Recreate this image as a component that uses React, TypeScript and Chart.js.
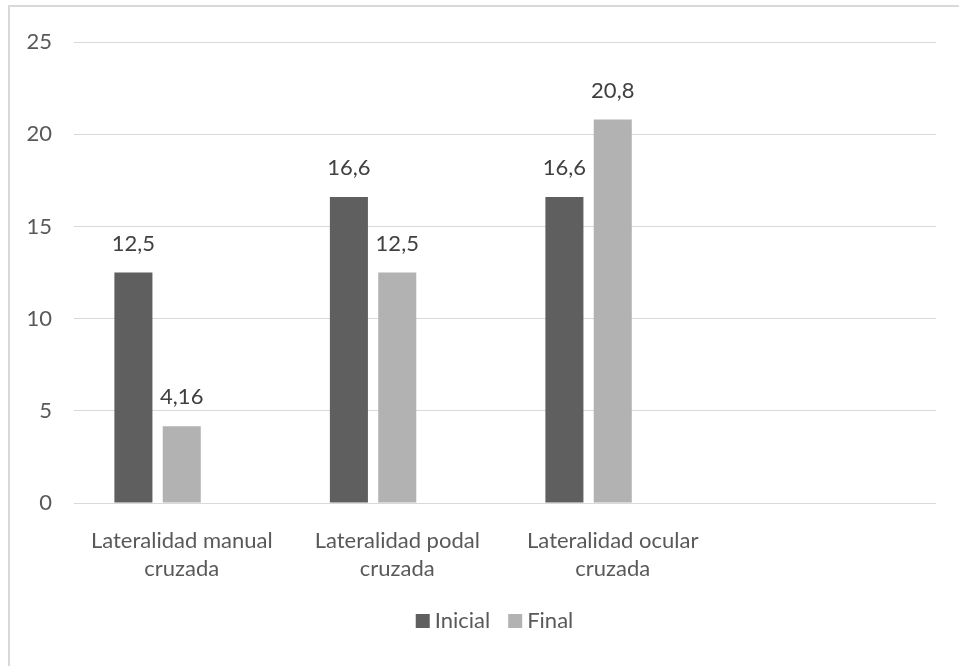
import { useEffect, useRef } from 'react';
import { Chart, registerables } from 'chart.js';

Chart.register(...registerables);

// Categories (the last slot is left empty on purpose, as in the workbook chart)
const categories: (string | string[])[] = [
  ['Lateralidad manual', 'cruzada'],
  ['Lateralidad podal', 'cruzada'],
  ['Lateralidad ocular', 'cruzada'],
  '',
];

const inicial: (number | null)[] = [12.5, 16.6, 16.6, null];
const final: (number | null)[] = [4.16, 12.5, 20.8, null];
// Unused third series keeps the bar slots where the workbook places them
const reserva: (number | null)[] = [null, null, null, null];

const yTicks = [0, 5, 10, 15, 20, 25];

const FONT = 'Lato, "Open Sans", sans-serif';
const FONT_SIZE = 22;
const DARK = '#5f5f5f';
const LIGHT = '#b2b2b2';
const GRID = '#d9d9d9';
const TICK_TEXT = '#595959';
const LABEL_TEXT = '#404040';

const fmt = (v: number) => String(v).replace('.', ',');

// Value labels above each bar
const valueLabels = {
  id: 'valueLabels',
  afterDatasetsDraw(chart: Chart) {
    const ctx = chart.ctx;
    ctx.save();
    ctx.font = `${FONT_SIZE}px ${FONT}`;
    ctx.fillStyle = LABEL_TEXT;
    ctx.textAlign = 'center';
    ctx.textBaseline = 'alphabetic';
    chart.data.datasets.forEach((ds, i) => {
      const meta = chart.getDatasetMeta(i);
      meta.data.forEach((el: any, j: number) => {
        const v = ds.data[j] as number | null;
        if (v === null || v === undefined) return;
        ctx.fillText(fmt(v), el.x, el.y - 22);
      });
    });
    ctx.restore();
  },
};

// Compact legend row under the plot
const legendRow = {
  id: 'legendRow',
  afterDraw(chart: Chart) {
    const ctx = chart.ctx;
    const items = chart.data.datasets
      .filter((d) => d.label)
      .map((d) => ({ label: d.label as string, color: d.backgroundColor as string }));
    ctx.save();
    ctx.font = `${FONT_SIZE}px ${FONT}`;
    const box = 14;
    const gapText = 5;
    const gapItem = 18;
    const widths = items.map((it) => box + gapText + ctx.measureText(it.label).width);
    const total = widths.reduce((a, b) => a + b, 0) + gapItem * (items.length - 1);
    const baseline = chart.height - 38;
    let x = chart.width / 2 + 10 - total / 2;
    items.forEach((it, i) => {
      ctx.fillStyle = it.color;
      ctx.fillRect(x, baseline - box, box, box);
      ctx.fillStyle = TICK_TEXT;
      ctx.textAlign = 'left';
      ctx.textBaseline = 'alphabetic';
      ctx.fillText(it.label, x + box + gapText, baseline);
      x += widths[i] + gapItem;
    });
    ctx.restore();
  },
};

export default function App() {
  const ref = useRef<HTMLCanvasElement | null>(null);

  useEffect(() => {
    if (!ref.current) return;
    const chart = new Chart(ref.current, {
      type: 'bar',
      data: {
        labels: categories,
        datasets: [
          { label: 'Inicial', data: inicial, backgroundColor: DARK },
          { label: 'Final', data: final, backgroundColor: LIGHT },
          { label: '', data: reserva, backgroundColor: '#ffffff' },
        ],
      },
      options: {
        responsive: false,
        animation: false,
        devicePixelRatio: 1,
        datasets: {
          bar: { categoryPercentage: 0.673, barPercentage: 0.787 },
        },
        layout: { padding: { top: 33, right: 23, left: 0, bottom: 0 } },
        plugins: {
          legend: { display: false },
          tooltip: { enabled: false },
        },
        scales: {
          x: {
            grid: { display: false },
            border: { display: false },
            ticks: {
              color: TICK_TEXT,
              font: { family: FONT, size: FONT_SIZE, lineHeight: 28 / FONT_SIZE },
              padding: 16,
              maxRotation: 0,
              autoSkip: false,
            },
            afterFit(scale: any) {
              scale.height = 163;
            },
          },
          y: {
            min: yTicks[0],
            max: yTicks[yTicks.length - 1],
            grid: { color: GRID, lineWidth: 1, drawTicks: false },
            border: { display: false },
            ticks: {
              stepSize: yTicks[1] - yTicks[0],
              color: TICK_TEXT,
              font: { family: FONT, size: FONT_SIZE },
              padding: 22,
            },
            afterFit(scale: any) {
              scale.width = 64;
            },
          },
        },
      },
      plugins: [valueLabels, legendRow],
    });
    return () => chart.destroy();
  }, []);

  return (
    <div style={{ position: 'fixed', inset: 0, overflow: 'hidden', background: '#ffffff' }}>
      <div
        style={{
          position: 'absolute',
          left: 8,
          top: 5,
          width: 980,
          height: 700,
          boxSizing: 'border-box',
          borderLeft: `2px solid ${GRID}`,
          borderTop: `2px solid ${GRID}`,
        }}
      >
        <canvas ref={ref} width={949} height={659} style={{ display: 'block' }} />
      </div>
    </div>
  );
}
